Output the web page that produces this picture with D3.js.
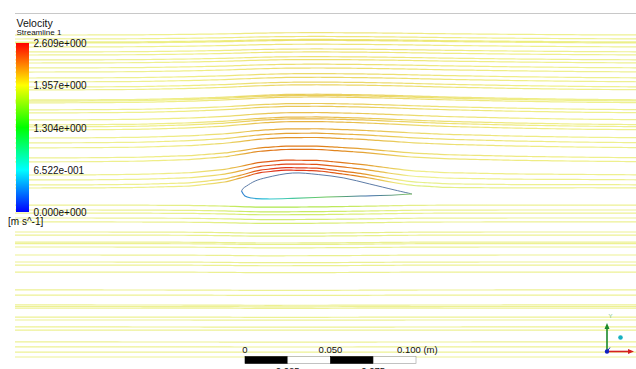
<!DOCTYPE html>
<html lang="en">
<head>
    <meta charset="UTF-8">
    <title>Velocity Streamline 1</title>
    <script src="https://d3js.org/d3.v7.min.js"></script>
    <style>
        body { margin: 0; background: #fff; }
        text { font-family: "Liberation Sans", Arial, sans-serif; fill: #111; }
    </style>
</head>
<body>
    <div id="chart"></div>
    <script>
        // legend
        const legendTicks = [0, 0.6522, 1.304, 1.957, 2.609];
        const legendLabels = ["0.000e+000", "6.522e-001", "1.304e+000", "1.957e+000", "2.609e+000"];
        const legendColors = ["#0000ff", "#00ffff", "#00ff00", "#ffff00", "#ff0000"];

        // streamline seed heights upstream (mm above chord line)
        const seedsUpper = [93.8, 91.5, 89.7, 89.1, 86.8, 83.9, 82.1, 79.2, 77.4, 74.5, 72.1, 68.6,
            66.3, 63.3, 61.6, 55.7, 55.0, 54.0, 49.9, 48.1, 44.0, 41.1, 39.9, 38.1, 33.4, 30.5,
            27.6, 21.7, 19.4, 11.7, 8.8, 5.9, 4.1];
        const seedsLower = [-5.9, -8.8, -10.6, -13.5, -15.8, -21.7, -23.5, -27.6, -28.5, -30.5,
            -35.2, -39.3, -41.1, -45.2, -55.7, -58.7, -64.5, -65.4, -66.3, -71.6, -73.3, -77.4,
            -79.2, -86.2, -89.1, -92.1, -95.0];

        // peak lift of a streamline over the foil (mm), by seed height
        const liftY0 = [0, 5, 10, 20, 30, 50, 80, 100];
        const liftMM = [11, 10.5, 9.2, 7.4, 5.9, 3.8, 1.9, 1.2];
        // peak velocity on a streamline (m/s), by seed height
        const peakSpeed = [2.6, 2.54, 2.46, 2.33, 2.22, 2.10, 2.02, 2.0];
        const freeSpeed = 1.93;
        const nearY0 = [0, 10, 30, 60];
        const nearWeight = [1, 0.7, 0.3, 0];

        // lift / speed profiles along the chord direction (x in mm, 0 = leading edge)
        const profileX = [-135, -90, -60, -30, -10, 0, 10, 25, 45, 70, 90, 100, 120, 160, 200, 240];
        const nearShape = [0, 0, 0.02, 0.08, 0.3, 0.55, 0.85, 1.0, 0.95, 0.6, 0.22, 0.06, -0.04, -0.04, 0, 0];
        const farShape = [0, 0.04, 0.1, 0.3, 0.5, 0.65, 0.8, 0.95, 1.0, 0.92, 0.8, 0.72, 0.55, 0.3, 0.12, 0.03];
        const speedShape = [0, 0, 0, 0.05, 0.2, 0.45, 0.9, 1.0, 0.85, 0.45, 0.05, -0.25, -0.15, -0.05, 0, 0];
        const lowShape = [0, 0, 0.05, 0.2, 0.5, 0.8, 1, 1, 0.9, 0.6, 0.3, 0.15, 0.05, 0, 0, 0];
        const lowY0 = [0, -10, -30, -60, -100];
        const lowLift = [-1.5, -1.0, -0.5, -0.2, 0];
        const lowDrop = [0.35, 0.12, 0.02, 0, 0];

        // foil outline (mm)
        const upperX = [0, 1, 3, 8, 15, 30, 45, 60, 75, 90, 100];
        const upperY = [2.3, 3.9, 5.3, 8.2, 10.3, 12.9, 12.0, 10.0, 6.5, 2.9, 0.6];
        const lowerX = [0, 2, 6, 15, 30, 50, 70, 90, 100];
        const lowerY = [2.3, -0.6, -1.8, -2.3, -2.0, -1.2, -0.6, 0.0, 0.6];

        const W = 636, H = 369;
        const svg = d3.select("#chart").append("svg")
            .attr("width", W).attr("height", H);
        const defs = svg.append("defs");

        const x = d3.scaleLinear().domain([0, 100]).range([241.5, 412]);
        const y = d3.scaleLinear().domain([0, 100]).range([195, 24.5]);
        const color = d3.scaleLinear().domain(legendTicks).range(legendColors);

        const xMin = x.invert(15), xMax = x.invert(W);

        svg.append("line")
            .attr("x1", 15).attr("x2", W).attr("y1", 13.5).attr("y2", 13.5)
            .attr("stroke", "#c8c8c8").attr("stroke-width", 1);

        const nearS = d3.scaleLinear().domain(profileX).range(nearShape).clamp(true);
        const farS = d3.scaleLinear().domain(profileX).range(farShape).clamp(true);
        const spdS = d3.scaleLinear().domain(profileX).range(speedShape).clamp(true);
        const lowS = d3.scaleLinear().domain(profileX).range(lowShape).clamp(true);
        const liftS = d3.scaleLinear().domain(liftY0).range(liftMM).clamp(true);
        const peakS = d3.scaleLinear().domain(liftY0).range(peakSpeed).clamp(true);
        const wS = d3.scaleLinear().domain(nearY0).range(nearWeight).clamp(true);
        const lowLiftS = d3.scaleLinear().domain(lowY0).range(lowLift).clamp(true);
        const lowDropS = d3.scaleLinear().domain(lowY0).range(lowDrop).clamp(true);
        const alphaS = d3.scaleLinear().domain([0, 0.35]).range([0.42, 0.9]).clamp(true);

        const xs = d3.range(xMin, xMax + 3, 3);

        function streamline(y0) {
            if (y0 > 0) {
                const w = wS(y0), A = liftS(y0), dv = peakS(y0) - freeSpeed;
                return xs.map(xx => {
                    const shape = w * nearS(xx) + (1 - w) * farS(xx);
                    const sp = w * spdS(xx) + (1 - w) * farS(xx);
                    return { x: xx, y: y0 + A * shape, v: freeSpeed + dv * sp };
                });
            }
            const A = lowLiftS(y0), drop = lowDropS(y0);
            return xs.map(xx => ({ x: xx, y: y0 + A * lowS(xx), v: freeSpeed - drop * lowS(xx) }));
        }

        const lines = seedsUpper.concat(seedsLower).map(streamline);
        const lineGen = d3.line().x(d => x(d.x)).y(d => y(d.y)).curve(d3.curveBasis);

        lines.forEach((pts, i) => {
            const grad = defs.append("linearGradient")
                .attr("id", "sl" + i)
                .attr("gradientUnits", "userSpaceOnUse")
                .attr("x1", x(xMin)).attr("x2", x(xMax))
                .attr("y1", 0).attr("y2", 0);
            pts.filter((d, j) => j % 2 === 0).forEach(d => {
                grad.append("stop")
                    .attr("offset", (d.x - xMin) / (xMax - xMin))
                    .attr("stop-color", d3.color(color(d.v)).darker(0.4))
                    .attr("stop-opacity", alphaS(Math.abs(d.v - freeSpeed)));
            });
            svg.append("path")
                .attr("d", lineGen(pts))
                .attr("fill", "none")
                .attr("stroke", `url(#sl${i})`)
                .attr("stroke-width", 1.2);
        });

        // foil outline
        const foilLine = d3.line().curve(d3.curveCatmullRom);
        svg.append("path")
            .attr("d", foilLine(upperX.map((v, i) => [x(v), y(upperY[i])])))
            .attr("fill", "none").attr("stroke", "#4a6c9c").attr("stroke-width", 0.9);
        const lg = defs.append("linearGradient").attr("id", "lowerGrad");
        [[0, "#2f7fd0"], [0.15, "#2cc7d8"], [0.5, "#6cc85a"], [0.75, "#3b6aa8"], [1, "#8fcf6a"]]
            .forEach(s => lg.append("stop").attr("offset", s[0]).attr("stop-color", s[1]));
        svg.append("path")
            .attr("d", foilLine(lowerX.map((v, i) => [x(v), y(lowerY[i])])))
            .attr("fill", "none").attr("stroke", "url(#lowerGrad)").attr("stroke-width", 1.1);

        // legend
        svg.append("text").attr("x", 16.5).attr("y", 26.5).attr("font-size", 10.5).text("Velocity");
        svg.append("text").attr("x", 16.5).attr("y", 35).attr("font-size", 8).text("Streamline 1");

        const barY = d3.scaleLinear().domain([0, 2.609]).range([212, 43]);
        const cb = defs.append("linearGradient").attr("id", "cbar")
            .attr("x1", 0).attr("x2", 0).attr("y1", 1).attr("y2", 0);
        legendTicks.forEach((t, i) => cb.append("stop")
            .attr("offset", t / 2.609).attr("stop-color", legendColors[i]));
        svg.append("rect")
            .attr("x", 16).attr("y", barY(2.609))
            .attr("width", 13).attr("height", barY(0) - barY(2.609))
            .attr("fill", "url(#cbar)");
        legendTicks.forEach((t, i) => {
            svg.append("text")
                .attr("x", 33.5).attr("y", barY(t) + 4)
                .attr("font-size", 10).text(legendLabels[i]);
        });
        svg.append("text").attr("x", 8).attr("y", 225).attr("font-size", 10).text("[m s^-1]");

        // scale bar
        const sb = d3.scaleLinear().domain([0, 0.1]).range([245, 416]);
        [0, 0.025, 0.05, 0.075].forEach((v, i) => {
            svg.append("rect")
                .attr("x", sb(v)).attr("y", 356.5)
                .attr("width", sb(0.025) - sb(0))
                .attr("height", 7)
                .attr("fill", i % 2 === 0 ? "#000" : "#fff")
                .attr("stroke", i % 2 === 0 ? "#000" : "#999")
                .attr("stroke-width", 0.6);
        });
        [[0, "0"], [0.05, "0.050"]].forEach(d => {
            svg.append("text").attr("x", sb(d[0])).attr("y", 353)
                .attr("text-anchor", "middle").attr("font-size", 9.5).text(d[1]);
        });
        svg.append("text").attr("x", sb(0.1) - 19).attr("y", 353)
            .attr("font-size", 9.5).text("0.100  (m)");
        [[0.025, "0.025"], [0.075, "0.075"]].forEach(d => {
            svg.append("text").attr("x", sb(d[0])).attr("y", 373.5)
                .attr("text-anchor", "middle").attr("font-size", 9.5).text(d[1]);
        });

        // axis triad
        const ox = 607, oy = 351.5;
        svg.append("line").attr("x1", ox).attr("y1", oy).attr("x2", ox).attr("y2", 328)
            .attr("stroke", "#1a8a2a").attr("stroke-width", 1.6);
        svg.append("path").attr("d", `M${ox - 2.5},329 L${ox},323 L${ox + 2.5},329 Z`).attr("fill", "#1a8a2a");
        svg.append("line").attr("x1", ox).attr("y1", oy).attr("x2", 629).attr("y2", oy)
            .attr("stroke", "#d42020").attr("stroke-width", 1.6);
        svg.append("path").attr("d", `M628,${oy - 2.5} L634,${oy} L628,${oy + 2.5} Z`).attr("fill", "#d42020");
        svg.append("line").attr("x1", ox).attr("y1", oy).attr("x2", ox + 3).attr("y2", oy - 4)
            .attr("stroke", "#2030c0").attr("stroke-width", 1);
        svg.append("circle").attr("cx", ox).attr("cy", oy).attr("r", 2.2).attr("fill", "#1020c0");
        svg.append("circle").attr("cx", 620.5).attr("cy", 337.5).attr("r", 2.3).attr("fill", "#18b0c0");
        svg.append("text").attr("x", 610.5).attr("y", 318).attr("font-size", 6)
            .attr("text-anchor", "middle").style("fill", "#7cc07c").text("Y");
    </script>
</body>
</html>
